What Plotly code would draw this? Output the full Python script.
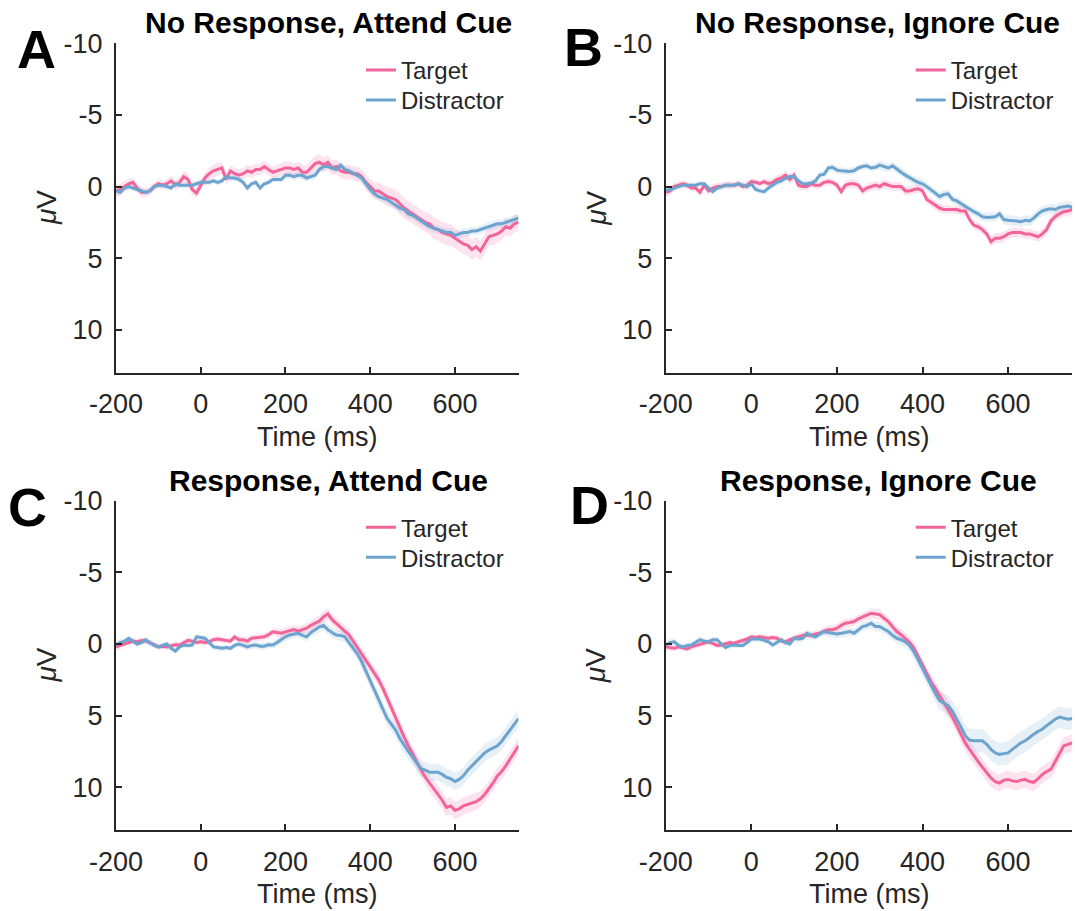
import plotly.graph_objects as go

# ---------------- data ----------------
TIME_MS = list(range(-200, 751, 10))

PANEL_LETTERS = ["A", "B", "C", "D"]
PANEL_TITLES = ["No Response, Attend Cue", "No Response, Ignore Cue",
                "Response, Attend Cue", "Response, Ignore Cue"]
SERIES_NAMES = ["Target", "Distractor"]
X_TICKS = [-200, 0, 200, 400, 600]
X_TICKTEXT = ["-200", "0", "200", "400", "600"]
Y_TICKS = [-10, -5, 0, 5, 10]
Y_TICKTEXT = ["-10", "-5", "0", "5", "10"]

A_TARGET = [0.3, 0.2, 0.0, -0.2, -0.3, 0.1, 0.4, 0.4, 0.3, 0.0,
            -0.2, -0.1, -0.2, -0.4, -0.1, -0.3, -0.7, -0.5, 0.2, 0.45,
            -0.1, -0.6, -0.9, -1.1, -1.2, -1.3, -0.5, -1.1, -0.9, -0.8,
            -0.9, -1.1, -1.0, -1.2, -1.2, -1.4, -1.2, -1.0, -1.1, -1.2,
            -1.3, -1.3, -1.2, -1.3, -1.0, -1.0, -1.3, -1.6, -1.7, -1.5,
            -1.7, -1.3, -1.4, -1.1, -1.0, -1.0, -0.9, -0.9, -0.7, -0.3,
            0.0, 0.3, 0.3, 0.5, 0.7, 0.8, 0.9, 1.2, 1.5, 1.7,
            1.9, 2.1, 2.3, 2.5, 2.6, 2.9, 3.0, 3.2, 3.3, 3.4,
            3.6, 3.8, 4.0, 4.1, 4.4, 4.2, 4.5, 4.0, 3.5, 3.4,
            3.3, 3.1, 2.8, 2.9, 2.6, 2.5]
A_DIST = [0.3, 0.4, 0.1, 0.0, 0.1, 0.2, 0.3, 0.4, 0.3, 0.0,
          -0.1, -0.1, 0.0, 0.1, -0.2, -0.1, -0.1, -0.1, -0.1, -0.2,
          -0.3, -0.3, -0.3, -0.4, -0.3, -0.4, -0.7, -0.6, -0.6, -0.5,
          -0.3, 0.1, -0.2, -0.3, 0.1, -0.2, -0.3, -0.5, -0.5, -0.5,
          -0.8, -0.8, -0.7, -0.8, -0.8, -0.6, -0.7, -0.8, -1.2, -1.4,
          -1.4, -1.3, -1.2, -1.5, -1.2, -1.1, -0.95, -0.8, -0.6, -0.2,
          0.2, 0.5, 0.7, 0.8, 0.9, 1.1, 1.3, 1.5, 1.6, 1.9,
          2.0, 2.2, 2.4, 2.6, 2.8, 2.9, 3.0, 3.1, 3.2, 3.2,
          3.4, 3.3, 3.2, 3.2, 3.1, 3.1, 3.0, 2.9, 2.8, 2.7,
          2.6, 2.6, 2.5, 2.4, 2.3, 2.2]
B_TARGET = [0.4, 0.3, 0.0, -0.1, -0.2, -0.1, 0.1, 0.1, 0.4, -0.1,
            0.3, 0.1, 0.0, 0.0, -0.1, -0.1, -0.1, -0.2, 0.0, -0.1,
            -0.35, -0.3, -0.2, -0.35, -0.2, -0.3, -0.5, -0.6, -0.8, -0.5,
            -0.8, -0.1, 0.0, 0.0, -0.2, -0.1, -0.1, -0.3, -0.35, -0.3,
            -0.1, 0.35, -0.1, -0.2, -0.2, -0.1, 0.3, 0.1, 0.0, -0.1,
            0.0, -0.2, -0.1, 0.0, 0.0, 0.0, 0.3, 0.3, 0.2, 0.15,
            0.3, 0.9, 1.1, 1.3, 1.5, 1.6, 1.6, 1.65, 1.6, 1.7,
            1.7, 2.3, 2.7, 2.8, 3.0, 3.3, 3.85, 3.6, 3.6, 3.5,
            3.3, 3.2, 3.2, 3.2, 3.3, 3.3, 3.4, 3.5, 3.3, 3.0,
            2.4, 2.1, 1.9, 1.75, 1.7, 1.6]
B_DIST = [0.3, 0.2, 0.1, 0.0, -0.1, -0.1, -0.1, -0.1, -0.2, -0.2,
          0.1, 0.35, 0.1, 0.0, -0.1, -0.1, -0.1, -0.2, -0.1, 0.0,
          -0.2, 0.2, 0.3, 0.35, 0.1, -0.1, -0.3, -0.4, -0.6, -0.7,
          -0.7, -0.4, -0.2, -0.2, -0.25, -0.4, -0.8, -0.85, -1.3, -1.35,
          -1.15, -1.1, -1.05, -1.05, -1.1, -1.3, -1.4, -1.45, -1.3, -1.35,
          -1.5, -1.4, -1.3, -1.45, -1.2, -1.0, -0.8, -0.6, -0.45, -0.3,
          -0.2, 0.0, 0.2, 0.45, 0.7, 0.55, 0.5, 0.9, 1.0, 1.2,
          1.4, 1.6, 1.75, 1.9, 2.1, 2.15, 2.1, 2.1, 1.9, 2.3,
          2.35, 2.35, 2.4, 2.45, 2.35, 2.4, 2.2, 1.9, 1.7, 1.6,
          1.55, 1.6, 1.45, 1.4, 1.35, 1.45]
C_TARGET = [0.2, 0.1, -0.05, -0.1, -0.2, -0.15, -0.25, -0.2, -0.1, 0.05,
            0.2, 0.15, 0.2, 0.1, 0.05, 0.07, -0.1, -0.25, -0.2, -0.1,
            -0.15, -0.1, -0.15, -0.3, -0.35, -0.3, -0.25, -0.2, -0.5, -0.3,
            -0.3, -0.2, -0.4, -0.45, -0.5, -0.5, -0.65, -0.85, -0.8, -0.75,
            -0.85, -0.95, -1.0, -0.9, -1.0, -1.1, -1.3, -1.45, -1.6, -1.9,
            -2.1, -1.7, -1.45, -1.2, -0.9, -0.63, -0.2, 0.3, 0.7, 1.12,
            1.6, 2.05, 2.5, 3.1, 3.8, 4.5, 5.1, 5.8, 6.5, 7.1,
            7.7, 8.25, 8.8, 9.3, 9.7, 10.1, 10.5, 10.9, 11.4, 11.3,
            11.6, 11.5, 11.3, 11.2, 11.05, 11.0, 10.8, 10.5, 10.1, 9.7,
            9.2, 8.9, 8.5, 8.0, 7.55, 7.1]
C_DIST = [0.07, -0.1, -0.2, -0.4, -0.2, 0.0, -0.1, -0.3, -0.1, 0.1,
          0.2, 0.1, 0.0, 0.3, 0.5, 0.2, 0.07, 0.1, 0.07, -0.5,
          -0.45, -0.4, -0.1, 0.2, 0.25, 0.3, 0.25, 0.3, 0.1, 0.0,
          0.1, 0.2, 0.1, 0.07, 0.15, 0.15, 0.05, 0.07, -0.1, -0.3,
          -0.5, -0.63, -0.7, -0.75, -0.6, -0.5, -0.8, -1.0, -1.2, -1.3,
          -1.0, -0.8, -0.63, -0.6, -0.5, -0.1, 0.3, 0.7, 1.24, 1.9,
          2.64, 3.3, 4.0, 4.6, 5.2, 5.6, 6.0, 6.6, 7.1, 7.5,
          7.9, 8.3, 8.7, 8.8, 8.95, 8.95, 8.95, 9.1, 9.3, 9.4,
          9.6, 9.45, 9.2, 8.8, 8.5, 8.2, 7.9, 7.6, 7.4, 7.25,
          7.1, 6.8, 6.4, 6.0, 5.55, 5.2]
D_TARGET = [0.2, 0.25, 0.3, 0.2, 0.3, 0.35, 0.2, 0.1, 0.0, -0.1,
            -0.15, -0.05, 0.1, 0.07, 0.0, -0.1, -0.05, -0.15, -0.2, -0.35,
            -0.5, -0.45, -0.5, -0.45, -0.4, -0.45, -0.4, -0.2, -0.15, -0.3,
            -0.4, -0.5, -0.6, -0.63, -0.6, -0.7, -0.75, -0.9, -1.0, -1.0,
            -1.1, -1.3, -1.45, -1.5, -1.57, -1.75, -1.9, -2.0, -2.15, -2.1,
            -2.05, -1.8, -1.57, -1.2, -0.87, -0.65, -0.4, -0.1, 0.3, 0.9,
            1.48, 2.1, 2.65, 3.1, 3.6, 4.05, 4.5, 5.1, 5.7, 6.3,
            6.9, 7.35, 7.8, 8.2, 8.6, 9.0, 9.35, 9.6, 9.7, 9.5,
            9.45, 9.55, 9.6, 9.5, 9.45, 9.6, 9.65, 9.4, 9.1, 8.9,
            8.75, 8.2, 7.6, 7.1, 7.0, 6.9]
D_DIST = [0.07, -0.1, -0.15, 0.1, 0.2, 0.1, 0.07, -0.1, -0.3, -0.2,
          -0.15, -0.3, -0.3, 0.0, 0.25, 0.1, 0.07, 0.1, 0.1, -0.1,
          -0.35, -0.35, -0.35, -0.25, -0.15, 0.07, -0.1, -0.3, -0.1, 0.0,
          -0.4, -0.35, -0.4, -0.75, -0.6, -0.5, -0.7, -0.87, -0.8, -0.75,
          -0.7, -0.75, -0.8, -0.87, -0.75, -1.0, -1.22, -1.3, -1.45, -1.22,
          -1.22, -1.05, -0.87, -0.6, -0.4, -0.3, -0.15, 0.1, 0.55, 1.1,
          1.7, 2.3, 2.9, 3.45, 3.95, 4.1, 4.3, 4.7, 5.2, 5.8,
          6.4, 6.7, 6.75, 6.75, 6.75, 7.0, 7.35, 7.6, 7.7, 7.65,
          7.6, 7.35, 7.1, 6.9, 6.75, 6.5, 6.3, 6.1, 5.95, 5.7,
          5.45, 5.25, 5.1, 5.2, 5.25, 5.2]

# standard errors (half-width of the shaded bands)
A_TARGET_SE = [0.45, 0.4, 0.35, 0.35, 0.3, 0.3, 0.35, 0.3, 0.3, 0.3,
               0.3, 0.3, 0.3, 0.35, 0.35, 0.35, 0.4, 0.4, 0.4, 0.35,
               0.35, 0.35, 0.4, 0.45, 0.45, 0.4, 0.4, 0.4, 0.4, 0.4,
               0.4, 0.4, 0.4, 0.4, 0.4, 0.4, 0.4, 0.4, 0.45, 0.45,
               0.45, 0.45, 0.45, 0.45, 0.5, 0.5, 0.5, 0.55, 0.55, 0.55,
               0.5, 0.5, 0.5, 0.5, 0.5, 0.5, 0.5, 0.5, 0.5, 0.55,
               0.55, 0.6, 0.6, 0.6, 0.65, 0.65, 0.7, 0.7, 0.7, 0.7,
               0.7, 0.7, 0.7, 0.7, 0.75, 0.75, 0.75, 0.75, 0.75, 0.75,
               0.7, 0.7, 0.7, 0.7, 0.7, 0.7, 0.7, 0.7, 0.65, 0.65,
               0.65, 0.6, 0.6, 0.6, 0.6, 0.6]
A_DIST_SE = [0.25, 0.25, 0.2, 0.2, 0.2, 0.2, 0.2, 0.2, 0.2, 0.2,
             0.2, 0.2, 0.2, 0.2, 0.2, 0.2, 0.2, 0.2, 0.2, 0.2,
             0.2, 0.2, 0.2, 0.2, 0.2, 0.2, 0.2, 0.2, 0.2, 0.2,
             0.2, 0.2, 0.2, 0.2, 0.2, 0.2, 0.2, 0.2, 0.2, 0.2,
             0.25, 0.25, 0.25, 0.25, 0.25, 0.25, 0.25, 0.25, 0.25, 0.25,
             0.25, 0.25, 0.25, 0.25, 0.25, 0.25, 0.25, 0.25, 0.3, 0.3,
             0.3, 0.3, 0.3, 0.3, 0.3, 0.3, 0.3, 0.3, 0.3, 0.3,
             0.3, 0.3, 0.3, 0.3, 0.3, 0.3, 0.3, 0.3, 0.3, 0.3,
             0.3, 0.3, 0.3, 0.3, 0.3, 0.3, 0.3, 0.3, 0.3, 0.3,
             0.3, 0.3, 0.3, 0.3, 0.3, 0.3]
B_TARGET_SE = [0.3, 0.3, 0.25, 0.25, 0.25, 0.25, 0.25, 0.25, 0.25, 0.25,
               0.25, 0.25, 0.25, 0.25, 0.25, 0.25, 0.25, 0.25, 0.25, 0.25,
               0.25, 0.25, 0.25, 0.25, 0.25, 0.25, 0.3, 0.3, 0.3, 0.3,
               0.3, 0.3, 0.25, 0.25, 0.25, 0.25, 0.25, 0.25, 0.25, 0.25,
               0.25, 0.3, 0.3, 0.3, 0.3, 0.3, 0.3, 0.3, 0.3, 0.3,
               0.3, 0.3, 0.3, 0.3, 0.3, 0.3, 0.3, 0.3, 0.3, 0.3,
               0.3, 0.3, 0.3, 0.3, 0.3, 0.3, 0.3, 0.3, 0.3, 0.3,
               0.3, 0.3, 0.3, 0.3, 0.3, 0.3, 0.35, 0.35, 0.35, 0.35,
               0.35, 0.35, 0.35, 0.35, 0.35, 0.35, 0.35, 0.35, 0.35, 0.35,
               0.35, 0.35, 0.35, 0.35, 0.35, 0.35]
B_DIST_SE = [0.25, 0.25, 0.2, 0.2, 0.2, 0.2, 0.2, 0.2, 0.2, 0.2,
             0.2, 0.2, 0.2, 0.2, 0.2, 0.2, 0.2, 0.2, 0.2, 0.2,
             0.2, 0.2, 0.2, 0.2, 0.2, 0.2, 0.25, 0.25, 0.25, 0.25,
             0.25, 0.25, 0.25, 0.25, 0.25, 0.25, 0.25, 0.25, 0.25, 0.25,
             0.25, 0.25, 0.25, 0.25, 0.25, 0.25, 0.25, 0.25, 0.25, 0.25,
             0.3, 0.3, 0.3, 0.3, 0.3, 0.3, 0.3, 0.3, 0.3, 0.3,
             0.3, 0.3, 0.3, 0.3, 0.3, 0.3, 0.3, 0.3, 0.3, 0.3,
             0.3, 0.3, 0.3, 0.3, 0.3, 0.3, 0.3, 0.3, 0.3, 0.35,
             0.35, 0.35, 0.35, 0.35, 0.35, 0.35, 0.35, 0.35, 0.35, 0.35,
             0.35, 0.35, 0.35, 0.35, 0.35, 0.35]
C_TARGET_SE = [0.25, 0.25, 0.2, 0.2, 0.2, 0.2, 0.2, 0.2, 0.2, 0.2,
               0.2, 0.2, 0.2, 0.2, 0.2, 0.2, 0.2, 0.2, 0.2, 0.2,
               0.2, 0.2, 0.2, 0.2, 0.2, 0.2, 0.2, 0.2, 0.2, 0.2,
               0.25, 0.25, 0.25, 0.25, 0.25, 0.25, 0.25, 0.25, 0.3, 0.3,
               0.3, 0.3, 0.3, 0.3, 0.35, 0.35, 0.35, 0.35, 0.4, 0.4,
               0.4, 0.4, 0.4, 0.4, 0.4, 0.4, 0.4, 0.45, 0.45, 0.45,
               0.45, 0.45, 0.45, 0.5, 0.5, 0.5, 0.5, 0.5, 0.5, 0.55,
               0.55, 0.55, 0.55, 0.55, 0.55, 0.6, 0.6, 0.6, 0.6, 0.6,
               0.6, 0.6, 0.6, 0.6, 0.6, 0.6, 0.55, 0.55, 0.55, 0.55,
               0.55, 0.55, 0.55, 0.55, 0.55, 0.55]
C_DIST_SE = [0.25, 0.25, 0.2, 0.2, 0.2, 0.2, 0.2, 0.2, 0.2, 0.2,
             0.2, 0.2, 0.2, 0.2, 0.2, 0.2, 0.2, 0.2, 0.2, 0.2,
             0.2, 0.2, 0.2, 0.2, 0.2, 0.2, 0.2, 0.2, 0.2, 0.2,
             0.25, 0.25, 0.25, 0.25, 0.25, 0.25, 0.25, 0.25, 0.3, 0.3,
             0.3, 0.3, 0.3, 0.3, 0.3, 0.3, 0.3, 0.35, 0.35, 0.35,
             0.35, 0.35, 0.35, 0.35, 0.35, 0.4, 0.4, 0.4, 0.45, 0.45,
             0.45, 0.45, 0.5, 0.5, 0.5, 0.5, 0.5, 0.5, 0.55, 0.55,
             0.55, 0.55, 0.55, 0.55, 0.6, 0.6, 0.6, 0.6, 0.6, 0.6,
             0.6, 0.6, 0.6, 0.6, 0.6, 0.6, 0.6, 0.6, 0.6, 0.6,
             0.6, 0.6, 0.6, 0.6, 0.6, 0.6]
D_TARGET_SE = [0.25, 0.25, 0.2, 0.2, 0.2, 0.2, 0.2, 0.2, 0.2, 0.2,
               0.2, 0.2, 0.2, 0.2, 0.2, 0.2, 0.2, 0.2, 0.2, 0.2,
               0.2, 0.2, 0.2, 0.2, 0.2, 0.2, 0.2, 0.2, 0.2, 0.2,
               0.25, 0.25, 0.25, 0.25, 0.25, 0.25, 0.25, 0.25, 0.3, 0.3,
               0.3, 0.3, 0.3, 0.3, 0.3, 0.3, 0.3, 0.3, 0.35, 0.35,
               0.35, 0.35, 0.35, 0.35, 0.35, 0.4, 0.4, 0.4, 0.45, 0.45,
               0.45, 0.45, 0.5, 0.5, 0.5, 0.55, 0.55, 0.55, 0.55, 0.6,
               0.6, 0.6, 0.6, 0.6, 0.6, 0.6, 0.6, 0.6, 0.6, 0.6,
               0.6, 0.6, 0.6, 0.6, 0.6, 0.6, 0.6, 0.6, 0.6, 0.6,
               0.6, 0.6, 0.6, 0.6, 0.6, 0.6]
D_DIST_SE = [0.25, 0.25, 0.2, 0.2, 0.2, 0.2, 0.2, 0.2, 0.2, 0.2,
             0.2, 0.2, 0.2, 0.2, 0.2, 0.2, 0.2, 0.2, 0.2, 0.2,
             0.2, 0.2, 0.2, 0.2, 0.2, 0.2, 0.2, 0.2, 0.2, 0.2,
             0.25, 0.25, 0.25, 0.25, 0.25, 0.25, 0.25, 0.25, 0.3, 0.3,
             0.3, 0.3, 0.3, 0.3, 0.3, 0.3, 0.3, 0.3, 0.35, 0.35,
             0.35, 0.35, 0.35, 0.35, 0.35, 0.4, 0.4, 0.45, 0.5, 0.5,
             0.55, 0.55, 0.6, 0.6, 0.65, 0.65, 0.7, 0.7, 0.75, 0.75,
             0.75, 0.8, 0.8, 0.8, 0.8, 0.8, 0.8, 0.8, 0.8, 0.8,
             0.8, 0.8, 0.8, 0.8, 0.8, 0.8, 0.8, 0.75, 0.75, 0.75,
             0.75, 0.75, 0.75, 0.75, 0.75, 0.75]

PANEL_DATA = [
    (A_TARGET, A_TARGET_SE, A_DIST, A_DIST_SE),
    (B_TARGET, B_TARGET_SE, B_DIST, B_DIST_SE),
    (C_TARGET, C_TARGET_SE, C_DIST, C_DIST_SE),
    (D_TARGET, D_TARGET_SE, D_DIST, D_DIST_SE),
]

# ---------------- style / layout ----------------
W, H = 1075, 911
PINK = "#F2649A"
BLUE = "#6CA4CF"
PINK_FILL = "rgba(242,100,154,0.18)"
BLUE_FILL = "rgba(108,164,207,0.16)"
AX_COLOR = "#262626"
FONT = "Liberation Sans, Arial, sans-serif"

# pixel geometry of each axes box: (left, right, top, bottom)
BOXES = [(116, 518.5, 43.3, 372.9), (665.7, 1072.3, 43.3, 372.9),
         (116, 518.5, 500.7, 830.3), (665.7, 1072.3, 500.7, 830.3)]
TITLE_POS = [(328, 22), (877, 22), (328, 480), (878, 480)]
LETTER_POS = [(36, 49), (583, 47), (27, 507), (589, 505)]


def px(x):
    return x / W


def py(y):
    return 1 - y / H


fig = go.Figure()
annotations = []

for i, (tgt, tgt_se, dst, dst_se) in enumerate(PANEL_DATA):
    n = "" if i == 0 else str(i + 1)
    xa, ya = "x" + n, "y" + n
    l, r, t, b = BOXES[i]
    for vals, se, col, fill in ((tgt, tgt_se, PINK, PINK_FILL),
                                (dst, dst_se, BLUE, BLUE_FILL)):
        upper = [v + s for v, s in zip(vals, se)]
        lower = [v - s for v, s in zip(vals, se)]
        fig.add_trace(go.Scatter(
            x=TIME_MS + TIME_MS[::-1], y=upper + lower[::-1],
            fill="toself", fillcolor=fill, line=dict(width=0),
            mode="lines", hoverinfo="skip", showlegend=False,
            xaxis=xa, yaxis=ya))
    for k, (vals, col, name) in enumerate(((tgt, PINK, SERIES_NAMES[0]),
                                           (dst, BLUE, SERIES_NAMES[1]))):
        leg_idx = 2 * i + k + 1
        leg = "legend" if leg_idx == 1 else "legend%d" % leg_idx
        fig.add_trace(go.Scatter(
            x=TIME_MS, y=vals, mode="lines", name=name,
            line=dict(color=col, width=3),
            xaxis=xa, yaxis=ya, legend=leg, showlegend=True))
        fig.layout[leg] = dict(
            x=px(l + 245), y=py(t + 27 + 30 * k), xanchor="left",
            yanchor="middle", bgcolor="rgba(0,0,0,0)", borderwidth=0,
            font=dict(family=FONT, size=24, color=AX_COLOR),
            itemwidth=30)

    axis_common = dict(showline=True, linewidth=2, linecolor=AX_COLOR,
                       ticks="inside", ticklen=6, tickwidth=1.5,
                       tickcolor=AX_COLOR, showgrid=False, zeroline=False,
                       tickfont=dict(family=FONT, size=27, color=AX_COLOR),
                       automargin=False, fixedrange=True)
    fig.layout["xaxis" + n] = dict(
        domain=[px(l), px(r)], anchor=ya, range=[-200, 750],
        tickvals=X_TICKS, ticktext=X_TICKTEXT, ticklabelstandoff=6,
        **axis_common)
    fig.layout["yaxis" + n] = dict(
        domain=[py(b), py(t)], anchor=xa, range=[13, -10],
        tickvals=Y_TICKS, ticktext=Y_TICKTEXT, ticklabelstandoff=6,
        **axis_common)

    cx = (l + r) / 2
    tx, ty = TITLE_POS[i]
    annotations.append(dict(
        text="<b>%s</b>" % PANEL_TITLES[i], x=px(tx), y=py(ty),
        xref="paper", yref="paper", showarrow=False, xanchor="center",
        yanchor="middle", font=dict(family=FONT, size=30, color="#000000")))
    lx, ly = LETTER_POS[i]
    annotations.append(dict(
        text="<b>%s</b>" % PANEL_LETTERS[i], x=px(lx), y=py(ly),
        xref="paper", yref="paper", showarrow=False, xanchor="center",
        yanchor="middle", font=dict(family=FONT, size=54, color="#000000")))
    annotations.append(dict(
        text="Time (ms)", x=px(cx), y=py(b + 64),
        xref="paper", yref="paper", showarrow=False, xanchor="center",
        yanchor="middle", font=dict(family=FONT, size=27, color=AX_COLOR)))
    annotations.append(dict(
        text="<i>\u03bc</i>V", x=px(l - 70), y=py((t + b) / 2),
        xref="paper", yref="paper", showarrow=False, xanchor="center",
        yanchor="middle", textangle=-90,
        font=dict(family=FONT, size=28, color=AX_COLOR)))

fig.update_layout(
    width=W, height=H, margin=dict(l=0, r=0, t=0, b=0),
    paper_bgcolor="white", plot_bgcolor="white",
    annotations=annotations, showlegend=True,
    font=dict(family=FONT, color=AX_COLOR),
)

fig.write_html("out.html")
